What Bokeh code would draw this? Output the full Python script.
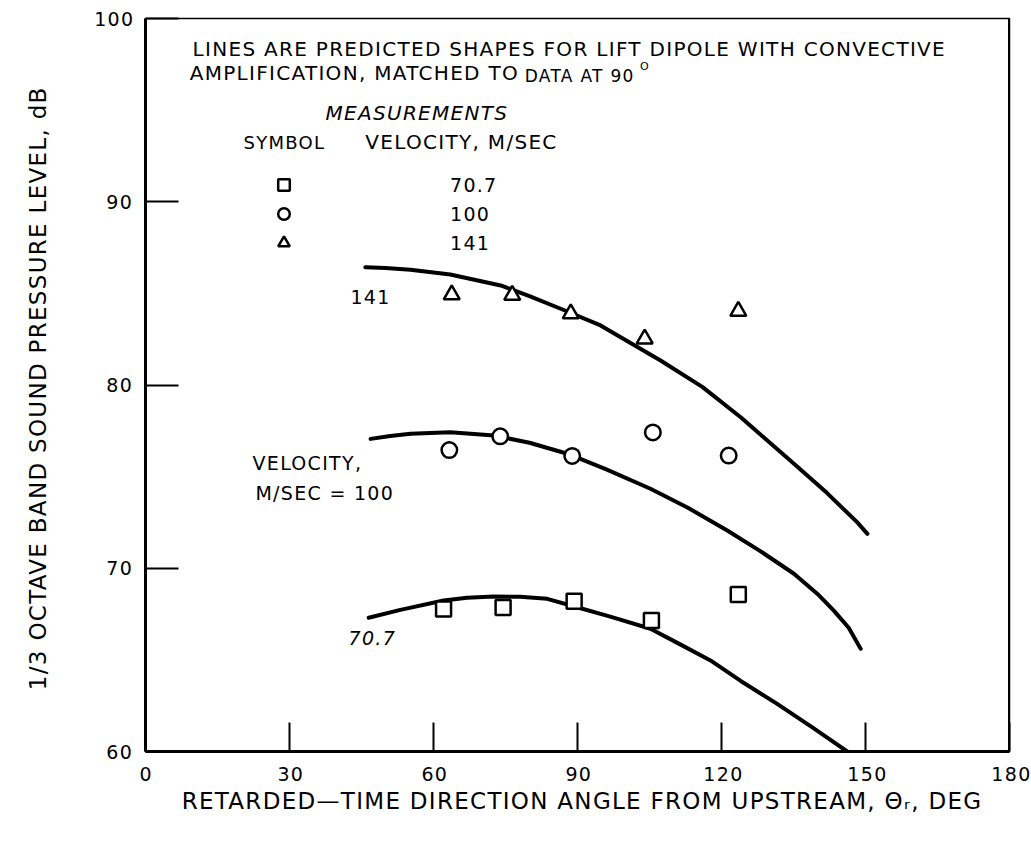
import math
from bokeh.plotting import figure
from bokeh.models import Range1d, FixedTicker, Label, Legend, LegendItem, Span
from bokeh.embed import file_html
from bokeh.resources import INLINE

FONT = "DejaVu Sans"

# ---------------- data ----------------
angle_ticks = [0, 30, 60, 90, 120, 150, 180]
level_ticks = [60, 70, 80, 90, 100]
velocity_labels = ["70.7", "100", "141"]

# measurements
meas_angle_707 = [62.1, 74.5, 89.3, 105.4, 123.5]
meas_level_707 = [67.77, 67.86, 68.20, 67.15, 68.57]
meas_angle_100 = [63.3, 73.9, 88.9, 105.7, 121.5]
meas_level_100 = [76.45, 77.20, 76.13, 77.41, 76.15]
meas_angle_141 = [63.8, 76.4, 88.6, 104.0, 123.5]
meas_level_141 = [84.93, 84.90, 83.89, 82.52, 84.03]

# predicted shapes (lift dipole with convective amplification)
pred_angle_141 = [45.8, 50.0, 55.2, 63.5, 74.0, 80.0, 86.5, 94.8, 107.3, 116.0, 124.0, 135.1, 142.0, 148.3, 150.4]
pred_level_141 = [86.43, 86.38, 86.29, 86.03, 85.43, 84.85, 84.16, 83.25, 81.34, 79.90, 78.24, 75.70, 74.10, 72.50, 71.88]
pred_angle_100 = [46.9, 51.0, 55.2, 63.5, 72.6, 80.0, 87.9, 96.0, 105.2, 113.0, 121.2, 128.0, 135.1, 140.0, 143.4, 146.5, 149.0]
pred_level_100 = [77.06, 77.22, 77.34, 77.42, 77.24, 76.85, 76.25, 75.40, 74.34, 73.30, 72.06, 70.95, 69.70, 68.60, 67.69, 66.75, 65.60]
pred_angle_707 = [46.5, 53.1, 62.1, 67.0, 72.6, 78.0, 83.7, 89.9, 97.0, 105.2, 111.0, 117.7, 124.0, 131.6, 139.0, 146.2]
pred_level_707 = [67.30, 67.73, 68.24, 68.39, 68.46, 68.44, 68.33, 67.87, 67.35, 66.70, 65.90, 64.97, 63.85, 62.60, 61.30, 60.00]

x_title = "RETARDED\u2014TIME DIRECTION ANGLE FROM UPSTREAM, \u0398\u1d63, DEG"
y_title = "1/3 OCTAVE BAND SOUND PRESSURE LEVEL, dB"

# ---------------- figure ----------------
p = figure(frame_width=864, frame_height=733,
           x_range=Range1d(0, 180), y_range=Range1d(60, 100),
           output_backend="svg", toolbar_location=None,
           min_border_left=145, min_border_top=18,
           min_border_right=22, min_border_bottom=86,
           background_fill_color="white", border_fill_color="white")
p.styles = {"letter-spacing": "1.3px"}
p.grid.visible = False
p.outline_line_color = "black"
p.outline_line_width = 1.5

for ax in (p.xaxis[0], p.yaxis[0]):
    ax.axis_line_width = 3
    ax.axis_line_color = "black"
    ax.major_tick_line_width = 2
    ax.major_tick_line_color = "black"
    ax.major_tick_out = 0
    ax.minor_tick_line_color = None
    ax.major_label_text_font = FONT
    ax.major_label_text_font_size = "19px"
    ax.major_label_text_color = "black"
    ax.axis_label_text_font = FONT
    ax.axis_label_text_font_size = "23px"
    ax.axis_label_text_font_style = "normal"
    ax.axis_label_text_color = "black"

# trailing blanks re-centre the titles, which the letter spacing widens to the right
pad = " " * 8

p.xaxis.ticker = FixedTicker(ticks=angle_ticks)
p.xaxis.major_tick_in = 29
p.xaxis.major_label_standoff = 15
p.xaxis.axis_label = x_title + pad
p.xaxis.axis_label_standoff = 4

p.yaxis.ticker = FixedTicker(ticks=level_ticks)
p.yaxis.major_tick_in = 33
p.yaxis.major_label_standoff = 15
p.yaxis.axis_label = y_title + pad
p.yaxis.axis_label_standoff = 40

p.add_layout(Span(location=180, dimension="height", line_color="black", line_width=3))

# predicted curves
for xs, ys in ((pred_angle_141, pred_level_141),
               (pred_angle_100, pred_level_100),
               (pred_angle_707, pred_level_707)):
    p.line(xs, ys, line_color="black", line_width=4, line_cap="round", line_join="round")

# measured points
mk = dict(fill_color="white", line_color="black", line_width=2.5)
r707 = p.scatter(meas_angle_707, meas_level_707, marker="square", size=15, **mk)
r100 = p.scatter(meas_angle_100, meas_level_100, marker="circle", size=15.5, **mk)
r141 = p.scatter(meas_angle_141, meas_level_141, marker="triangle", size=16, **mk)

legend = Legend(items=[LegendItem(label=velocity_labels[0], renderers=[r707]),
                       LegendItem(label=velocity_labels[1], renderers=[r100]),
                       LegendItem(label=velocity_labels[2], renderers=[r141])],
                location=(124, 494), orientation="vertical",
                padding=0, margin=0, spacing=0,
                glyph_width=29, glyph_height=29, label_standoff=152,
                label_text_font=FONT, label_text_font_size="19px",
                label_text_color="black",
                border_line_color=None, background_fill_alpha=0)
p.add_layout(legend)

def lab(x, y, text, size="20px", align="left", baseline="middle", style="normal"):
    p.add_layout(Label(x=x, y=y, text=text, text_font=FONT, text_font_size=size,
                       text_align=align, text_baseline=baseline, text_color="black",
                       text_font_style=style))

# notes
lab(9.8, 98.36, "LINES ARE PREDICTED SHAPES FOR LIFT DIPOLE WITH CONVECTIVE", baseline="alphabetic")
lab(9.2, 97.0, "AMPLIFICATION, MATCHED TO", baseline="alphabetic")
lab(79.0, 96.84, "DATA AT 90", size="17px", baseline="alphabetic")
lab(103.0, 97.38, "O", size="11px", baseline="alphabetic")

lab(37.5, 94.82, "MEASUREMENTS", style="italic")
lab(20.4, 93.25, "SYMBOL", size="18px")
lab(45.8, 93.25, "VELOCITY, M/SEC")

lab(42.7, 84.78, "141", size="19px")
lab(22.3, 75.77, "VELOCITY,", size="19px")
lab(22.9, 74.08, "M/SEC = 100", size="19px")
lab(42.3, 66.17, "70.7", size="19px", style="italic")

open("out.html", "w").write(file_html(p, INLINE))
